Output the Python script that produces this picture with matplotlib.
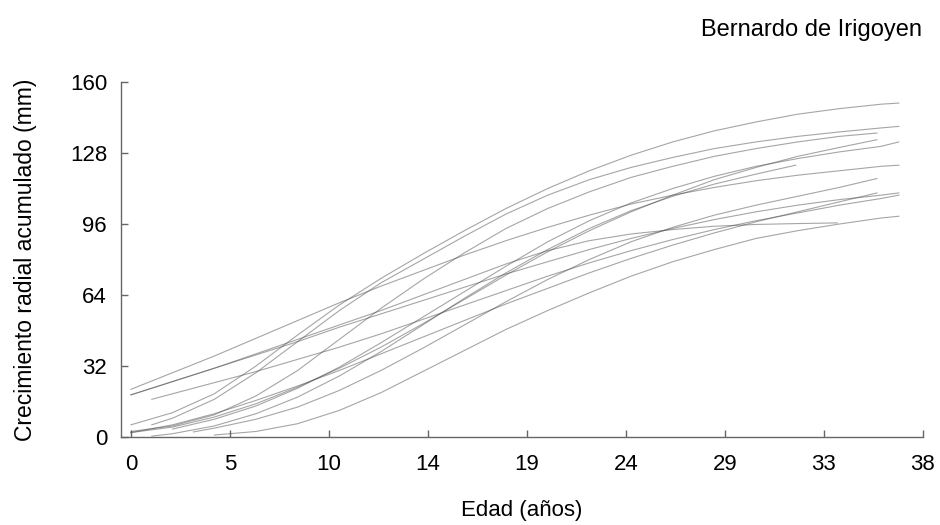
import numpy as np
import matplotlib.pyplot as plt

plt.rcParams['font.family'] = ['Liberation Sans', 'DejaVu Sans']

# edad (años) y crecimiento radial acumulado (mm) por árbol
edad_1 = [0, 2, 4, 6, 8, 10, 12, 14, 16, 18, 20, 22, 24, 26, 28, 30, 32, 34, 36, 36.85]
crec_1 = [5.5, 11, 19.5, 32, 46, 59.5, 71.5, 82.5, 93, 103, 112, 120, 127, 133, 138, 142, 145.5, 148, 150, 150.5]

edad_2 = [1, 2, 4, 6, 8, 10, 12, 14, 16, 18, 20, 22, 24, 26, 28, 30, 32, 34, 36, 36.85]
crec_2 = [5.5, 8.5, 17, 29, 43, 57, 69.5, 80, 90.5, 100.5, 109, 116, 121.5, 126, 130, 133, 135.5, 137.5, 139.3, 140]

edad_3 = [0, 2, 4, 6, 8, 10, 12, 14, 16, 18, 20, 22, 24, 26, 28, 30, 32, 34, 36, 36.85]
crec_3 = [21.5, 29, 36.5, 44.5, 52.5, 60.5, 68, 75, 82, 88.5, 94.5, 100, 105, 109, 112.5, 115.5, 118, 120, 122, 122.5]

edad_4 = [0, 2, 4, 6, 8, 10, 12, 14, 16, 18, 20, 22, 24, 26, 28, 30, 32, 33.9]
crec_4 = [19, 25, 31, 37.5, 44, 50.5, 57, 64, 71, 78, 84, 88.5, 91.5, 93.5, 95, 95.8, 96.2, 96.5]

edad_5 = [0, 2, 4, 6, 8, 10, 12, 14, 16, 18, 20, 22, 24, 26, 28, 30, 32, 34, 36, 36.85]
crec_5 = [19, 25, 31, 37, 43, 49.5, 55.5, 61.5, 67.5, 73.5, 79, 84.5, 89.5, 94, 98, 101.5, 104.5, 107, 109, 110]

edad_6 = [1, 2, 4, 6, 8, 10, 12, 14, 16, 18, 20, 22, 24, 26, 28, 30, 32, 34, 36, 36.85]
crec_6 = [17, 19.5, 24.5, 29.5, 35, 40.5, 46.5, 53, 59.5, 66, 72.5, 78.5, 84, 89, 93.5, 97.5, 101, 104.5, 107.5, 109]

edad_7 = [0, 2, 4, 6, 8, 10, 12, 14, 16, 18, 20, 22, 24, 26, 28, 30, 32, 34, 35.8]
crec_7 = [2.5, 5, 10, 18.5, 30, 44, 58, 71, 83, 94, 103, 110.5, 117, 122, 126.5, 130, 133, 135.5, 137]

edad_8 = [0, 2, 4, 6, 8, 10, 12, 14, 16, 18, 20, 22, 24, 26, 28, 30, 32, 34, 35.8]
crec_8 = [2, 4.5, 9, 15, 22.5, 31, 40.5, 51, 62, 73, 83.5, 93, 101.5, 109, 116, 121.5, 126.5, 130.5, 134]

edad_9 = [2, 4, 6, 8, 10, 12, 14, 16, 18, 20, 22, 24, 26, 28, 30, 32, 34, 36, 36.85]
crec_9 = [3.6, 8, 14, 22, 31.5, 42.5, 54, 65.5, 77, 88, 97.5, 105.5, 112, 117.5, 122, 125.5, 128.5, 131, 133]

edad_10 = [1, 2, 4, 6, 8, 10, 12, 14, 16, 18, 20, 22, 24, 26, 28, 30, 31.9]
crec_10 = [0.4, 1.5, 5, 10.5, 18, 27.5, 38.5, 50.5, 62.5, 74, 84.5, 94, 102, 108.5, 114, 118.5, 122.5]

edad_11 = [3, 4, 6, 8, 10, 12, 14, 16, 18, 20, 22, 24, 26, 28, 30, 32, 34, 35.8]
crec_11 = [2.3, 4, 8, 13.5, 21, 30, 40, 50.5, 61, 71, 80, 88, 94.5, 100, 104.5, 108.5, 112.5, 116.5]

edad_12 = [0, 2, 4, 6, 8, 10, 12, 14, 16, 18, 20, 22, 24, 26, 28, 30, 32, 34, 35.8]
crec_12 = [2, 5.5, 10.5, 16.5, 23, 30, 37.5, 45, 52.5, 60, 67, 74, 80.5, 86.5, 92, 97, 101.5, 106, 110]

edad_13 = [4, 6, 8, 10, 12, 14, 16, 18, 20, 22, 24, 26, 28, 30, 32, 34, 36, 36.85]
crec_13 = [0.9, 2.5, 6, 12, 20, 29.5, 39, 48.5, 57, 65, 72.5, 79, 84.5, 89.5, 93, 96, 98.7, 99.5]

x_ticklabels = ['0', '5', '10', '14', '19', '24', '29', '33', '38']
y_ticks = [0, 32, 64, 96, 128, 160]

arboles = [
    (edad_1, crec_1), (edad_2, crec_2), (edad_3, crec_3), (edad_4, crec_4),
    (edad_5, crec_5), (edad_6, crec_6), (edad_7, crec_7), (edad_8, crec_8),
    (edad_9, crec_9), (edad_10, crec_10), (edad_11, crec_11), (edad_12, crec_12),
    (edad_13, crec_13),
]

fig = plt.figure(figsize=(9.4, 5.25), dpi=100)
ax = fig.add_axes([0.1287, 0.1676, 0.853, 0.6762])

for edad, crec in arboles:
    ax.plot(edad, crec, color='0.3', alpha=0.5, lw=0.8)

ax.set_xlim(-0.48, 38)
ax.set_ylim(0, 160)

ax.set_xticks(np.linspace(0, 38, len(x_ticklabels)))
ax.set_xticklabels(x_ticklabels)
ax.set_yticks(y_ticks)

for side in ['top', 'right']:
    ax.spines[side].set_visible(False)
for side in ['left', 'bottom']:
    ax.spines[side].set_color('#666666')
    ax.spines[side].set_linewidth(1.0)

ax.tick_params(axis='both', direction='in', length=5, width=1.0,
               color='#666666', labelsize=16, labelcolor='black')
ax.tick_params(axis='x', pad=12)
ax.tick_params(axis='y', pad=10)

ax.set_xlabel('Edad (años)', fontsize=16, labelpad=18)
ax.set_ylabel('Crecimiento radial acumulado (mm)', fontsize=16.5, labelpad=24)

fig.text(0.981, 1 - 30 / 525, 'Bernardo de Irigoyen', fontsize=17,
         ha='right', va='center')

fig.savefig('out.png', dpi=100)
